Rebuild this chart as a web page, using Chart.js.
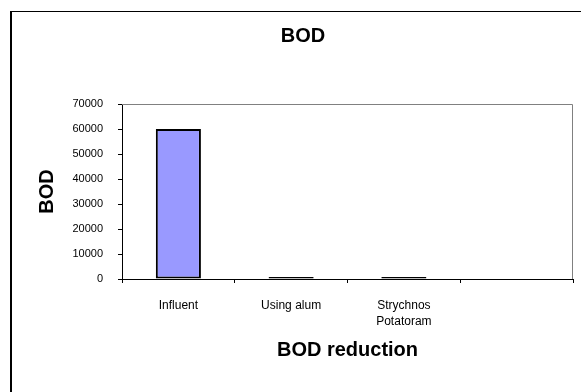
<!DOCTYPE html>
<html>
<head>
<meta charset="utf-8">
<script src="https://cdn.jsdelivr.net/npm/chart.js@4/dist/chart.umd.min.js"></script>
<style>
  html, body { margin: 0; padding: 0; background: #fff; }
  #wrap { position: relative; width: 581px; height: 392px; overflow: hidden; }
  canvas { display: block; }
</style>
</head>
<body>
<div id="wrap"><canvas id="c" width="581" height="392"></canvas></div>
<script>
// Treatment stages (the last slot is left empty on the axis)
const categories = ['Influent', 'Using alum', ['Strychnos', 'Potatoram'], ''];
// BOD values per stage
const bodValues = [60000, 150, 100, null];
// Value axis range
const yMin = 0;
const yMax = 70000;
const yStep = 10000;

const FONT = 'Arial, "Liberation Sans", Helvetica, sans-serif';

// Outer frame of the sheet plus grey top/right edges of the plot box
const framePlugin = {
  id: 'frame',
  beforeDraw(chart) {
    const ctx = chart.ctx;
    ctx.save();
    ctx.fillStyle = '#ffffff';
    ctx.fillRect(0, 0, chart.width, chart.height);
    ctx.fillStyle = '#000000';
    ctx.fillRect(10, 11, 2, chart.height);
    ctx.fillRect(10, 11, chart.width, 1);
    ctx.restore();
  },
  beforeDatasetsDraw(chart) {
    const { ctx, chartArea: a } = chart;
    ctx.save();
    ctx.strokeStyle = '#808080';
    ctx.lineWidth = 1;
    ctx.beginPath();
    ctx.moveTo(a.left, a.top + 0.5);
    ctx.lineTo(a.right - 0.5, a.top + 0.5);
    ctx.lineTo(a.right - 0.5, a.bottom);
    ctx.stroke();
    ctx.restore();
  }
};

new Chart(document.getElementById('c'), {
  type: 'bar',
  data: {
    labels: categories,
    datasets: [{
      label: 'BOD',
      data: bodValues,
      backgroundColor: '#9999ff',
      borderColor: '#000000',
      borderWidth: 2,
      borderSkipped: false,
      barPercentage: 0.4,
      categoryPercentage: 1.0,
      minBarLength: 2
    }]
  },
  options: {
    responsive: false,
    animation: false,
    devicePixelRatio: 1,
    layout: { padding: { left: 33, right: 8, top: 0, bottom: 0 } },
    plugins: {
      legend: { display: false },
      tooltip: { enabled: false },
      title: {
        display: true,
        text: 'BOD',
        color: '#000000',
        font: { family: FONT, size: 20, weight: 'bold', lineHeight: 1.2 },
        padding: { top: 24, bottom: 56 }
      }
    },
    scales: {
      x: {
        offset: true,
        grid: {
          offset: true,
          drawOnChartArea: false,
          drawTicks: true,
          tickLength: 4,
          color: '#000000'
        },
        border: { display: true, color: '#000000', width: 1 },
        ticks: {
          color: '#000000',
          padding: 15,
          maxRotation: 0,
          autoSkip: false,
          font: { family: FONT, size: 12, lineHeight: 1.3 }
        },
        title: {
          display: true,
          text: 'BOD reduction',
          color: '#000000',
          font: { family: FONT, size: 20, weight: 'bold', lineHeight: 1.2 },
          padding: { top: 0, bottom: 30 }
        },
        afterFit(scale) { scale.height = 113; }
      },
      y: {
        min: yMin,
        max: yMax,
        grid: {
          drawOnChartArea: false,
          drawTicks: true,
          tickLength: 4,
          color: '#000000'
        },
        border: { display: true, color: '#000000', width: 1 },
        ticks: {
          stepSize: yStep,
          color: '#000000',
          padding: 15,
          font: { family: FONT, size: 11 },
          callback: (v) => String(v)
        },
        title: {
          display: true,
          text: 'BOD',
          color: '#000000',
          font: { family: FONT, size: 20, weight: 'bold', lineHeight: 1.2 },
          padding: { top: 2, bottom: 0 }
        },
        afterFit(scale) { scale.width = 89; }
      }
    }
  },
  plugins: [framePlugin]
});
</script>
</body>
</html>
